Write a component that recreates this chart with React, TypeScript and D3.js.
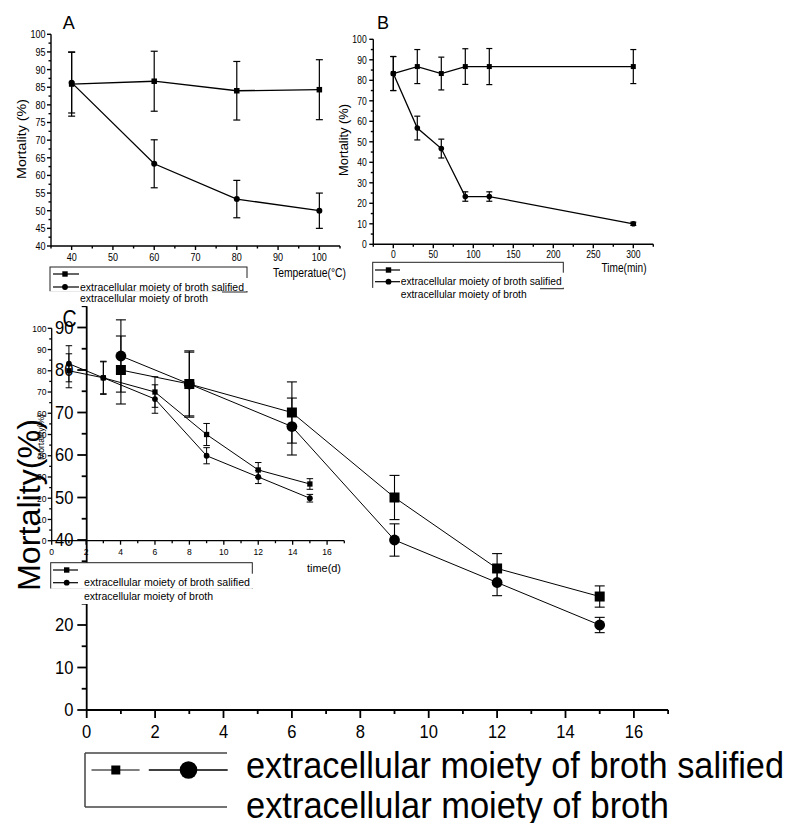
import React from "react";
import * as d3 from "d3";

// ---- panel A : temperature treatment ----
const tempX = [40, 60, 80, 100];
const tempSalified = [85.9, 86.7, 84.0, 84.3];
const tempSalifiedErr = [9.1, 8.5, 8.3, 8.5];
const tempBroth = [86.3, 63.3, 53.3, 50.0];
const tempBrothErr = [8.6, 6.8, 5.3, 5.0];
const tempXTicks = [40, 50, 60, 70, 80, 90, 100];
const tempXMinor = [35, 45, 55, 65, 75, 85, 95, 105];
const tempYTicks = [40, 45, 50, 55, 60, 65, 70, 75, 80, 85, 90, 95, 100];
const tempYMinor = [42.5, 47.5, 52.5, 57.5, 62.5, 67.5, 72.5, 77.5, 82.5, 87.5, 92.5, 97.5];

// ---- panel B : exposure time (min) ----
const minX = [0, 30, 60, 90, 120, 300];
const minSalified = [83.3, 86.7, 83.3, 86.7, 86.7, 86.7];
const minSalifiedErr = [8.3, 8.3, 8.0, 8.7, 8.8, 8.3];
const minBroth = [83.3, 56.7, 46.7, 23.3, 23.3, 10.0];
const minBrothErr = [8.3, 5.8, 4.6, 2.3, 2.3, 0.8];
const minXTicks = [0, 50, 100, 150, 200, 250, 300];
const minXMinor = [-25, 25, 75, 125, 175, 225, 275, 325];
const pctTicks = [0, 10, 20, 30, 40, 50, 60, 70, 80, 90, 100];
const pctMinor = [5, 15, 25, 35, 45, 55, 65, 75, 85, 95];

// ---- panel C : storage time (d) ----
const days = [1, 3, 6, 9, 12, 15];
const daySalified = [80.0, 76.7, 70.0, 50.0, 33.3, 26.7];
const daySalifiedErr = [8.0, 7.8, 7.2, 5.2, 3.5, 2.5];
const dayBroth = [83.3, 76.7, 66.7, 40.0, 30.0, 20.0];
const dayBrothErr = [8.5, 7.5, 6.7, 3.8, 3.1, 1.8];
const dayXTicks = [0, 2, 4, 6, 8, 10, 12, 14, 16];
const dayXMinor = [1, 3, 5, 7, 9, 11, 13, 15, 17];
const bigYTicks = [0, 10, 20, 30, 40, 50, 60, 70, 80, 90];
const bigYMinor = [5, 15, 25, 35, 45, 55, 65, 75, 85, 95];

const seriesNames = ["extracellular moiety of broth salified", "extracellular moiety of broth"];

const FONT = "'Liberation Sans', Arial, Helvetica, sans-serif";

// text squeezed horizontally (the figure was exported with a narrow face)
function Cond({ x, y, size, cond = 1, anchor = "start", dy = 0, children }: any) {
  return (
    <text
      transform={`translate(${x},${y}) scale(${cond},1)`}
      textAnchor={anchor}
      fontSize={size}
      dy={dy}
      fill="#000"
    >
      {children}
    </text>
  );
}

function Panel(p: any) {
  const x = d3.scaleLinear().domain(p.xDom).range([p.left, p.right]);
  const y = d3.scaleLinear().domain(p.yDom).range([p.bottom, p.top]);
  const line = d3
    .line<number[]>()
    .x(d => x(d[0]))
    .y(d => y(d[1]));

  return (
    <g>
      {/* series */}
      {p.series.map((s: any, si: number) => {
        const pts = s.xs.map((v: number, i: number) => [v, s.ys[i]]);
        return (
          <g key={si}>
            <path d={line(pts) || ""} fill="none" stroke="#000" strokeWidth={p.lineW} />
            {s.xs.map((v: number, i: number) => {
              const cx = x(v);
              const t = y(s.ys[i] + s.err[i]);
              const b = y(s.ys[i] - s.err[i]);
              return (
                <g key={i} stroke="#000" strokeWidth={p.errW}>
                  <line x1={cx} x2={cx} y1={t} y2={b} />
                  <line x1={cx - p.cap / 2} x2={cx + p.cap / 2} y1={t} y2={t} />
                  <line x1={cx - p.cap / 2} x2={cx + p.cap / 2} y1={b} y2={b} />
                </g>
              );
            })}
            {s.xs.map((v: number, i: number) =>
              s.shape === "square" ? (
                <rect
                  key={i}
                  x={x(v) - p.sq / 2}
                  y={y(s.ys[i]) - p.sq / 2}
                  width={p.sq}
                  height={p.sq}
                  fill="#000"
                />
              ) : (
                <circle key={i} cx={x(v)} cy={y(s.ys[i])} r={p.r} fill="#000" />
              )
            )}
          </g>
        );
      })}

      {/* axes */}
      <g stroke="#000" strokeWidth={p.axisW}>
        <line x1={p.left} x2={p.right} y1={p.bottom} y2={p.bottom} />
        <line x1={p.left} x2={p.left} y1={p.bottom} y2={p.top} />
        {p.xMajor.map((v: number) => (
          <line key={"xm" + v} x1={x(v)} x2={x(v)} y1={p.bottom} y2={p.bottom + p.xMajLen} />
        ))}
        {p.xMinor.map((v: number) => (
          <line key={"xn" + v} x1={x(v)} x2={x(v)} y1={p.bottom} y2={p.bottom + p.xMinLen} />
        ))}
        {p.yMajor.map((v: number) => (
          <line key={"ym" + v} x1={p.left} x2={p.left - p.yMajLen} y1={y(v)} y2={y(v)} />
        ))}
        {p.yMinor.map((v: number) => (
          <line key={"yn" + v} x1={p.left} x2={p.left - p.yMinLen} y1={y(v)} y2={y(v)} />
        ))}
      </g>
      {p.xMajor.map((v: number) => (
        <Cond key={"xl" + v} x={x(v)} y={p.bottom + p.xLabOff} size={p.fs} cond={p.cond} anchor="middle">
          {v}
        </Cond>
      ))}
      {p.yMajor.map((v: number) => (
        <Cond
          key={"yl" + v}
          x={p.left - p.yLabOff}
          y={y(v)}
          size={p.fs}
          cond={p.cond}
          anchor="end"
          dy="0.36em"
        >
          {v}
        </Cond>
      ))}
    </g>
  );
}

// small Origin-style legend: box partly hidden by the white text backgrounds
function SmallLegend(p: any) {
  const { l, t, r, b, lx0, lx1, mx, row1, row2, tx, base2, w1, w2, fs, bg2Right } = p;
  return (
    <g>
      <rect x={l} y={t} width={r - l} height={b - t} fill="#fff" stroke="#222" strokeWidth={1} />
      <rect x={tx - 2} y={row2 - 9} width={r + 2 - (tx - 2)} height={b - 1 - (row2 - 9)} fill="#fff" />
      <rect x={l - 6} y={b - 0.8} width={bg2Right - (l - 6)} height={base2 + 4 - (b - 0.8)} fill="#fff" />
      <line x1={lx0} x2={lx1} y1={row1} y2={row1} stroke="#000" strokeWidth={1.2} />
      <rect x={mx - 2.7} y={row1 - 2.7} width={5.4} height={5.4} fill="#000" />
      <line x1={lx0} x2={lx1} y1={row2} y2={row2} stroke="#000" strokeWidth={1.2} />
      <circle cx={mx} cy={row2} r={2.9} fill="#000" />
      <text x={tx} y={row2 + 3.6} fontSize={fs} textLength={w1} lengthAdjust="spacingAndGlyphs">
        {seriesNames[0]}
      </text>
      <text x={tx} y={base2} fontSize={fs} textLength={w2} lengthAdjust="spacingAndGlyphs">
        {seriesNames[1]}
      </text>
    </g>
  );
}

export default function App() {
  const series = (xs: number[], a: number[], ae: number[], c: number[], ce: number[]) => [
    { xs, ys: a, err: ae, shape: "square" },
    { xs, ys: c, err: ce, shape: "circle" },
  ];

  return (
    <svg
      width={799}
      height={823}
      style={{ position: "absolute", left: 0, top: 0, display: "block", background: "#fff" }}
      fontFamily={FONT}
    >
      {/* ---------- big panel C ---------- */}
      <Panel
        left={86.7}
        right={668.1}
        top={306.25}
        bottom={710}
        xDom={[0, 17]}
        yDom={[0, 95]}
        xMajor={dayXTicks}
        xMinor={dayXMinor}
        yMajor={bigYTicks}
        yMinor={bigYMinor}
        xMajLen={8}
        xMinLen={4}
        yMajLen={9.4}
        yMinLen={5}
        xLabOff={28.3}
        yLabOff={13.2}
        fs={18}
        cond={0.92}
        axisW={1.8}
        lineW={1}
        errW={1.1}
        cap={10}
        sq={10}
        r={5.4}
        series={series(days, daySalified, daySalifiedErr, dayBroth, dayBrothErr)}
      />
      <text
        transform="translate(40,505) rotate(-90)"
        textAnchor="middle"
        fontSize={32}
        textLength={172}
        lengthAdjust="spacingAndGlyphs"
      >
        Mortality(%)
      </text>
      <Cond x={62.5} y={327} size={23} cond={0.85}>
        C
      </Cond>

      {/* big legend */}
      <g stroke="#444" strokeWidth={1.5}>
        <line x1={85} x2={227} y1={753} y2={753} />
        <line x1={85} x2={227} y1={807} y2={807} />
        <line x1={85} x2={85} y1={753} y2={807} />
      </g>
      <line x1={91.5} x2={139.6} y1={770} y2={770} stroke="#555" strokeWidth={1.5} />
      <rect x={111.3} y={765.5} width={9} height={9} fill="#000" />
      <line x1={148.8} x2={227.7} y1={770} y2={770} stroke="#000" strokeWidth={1.5} />
      <circle cx={188.5} cy={770} r={8.8} fill="#000" />
      <text x={246} y={778} fontSize={36} textLength={538} lengthAdjust="spacingAndGlyphs">
        {seriesNames[0]}
      </text>
      <text x={246} y={818} fontSize={36} textLength={423} lengthAdjust="spacingAndGlyphs">
        {seriesNames[1]}
      </text>

      {/* ---------- small copy of panel C laid over it ---------- */}
      <Panel
        left={51.7}
        right={344.3}
        top={328.3}
        bottom={540.7}
        xDom={[0, 17]}
        yDom={[0, 100]}
        xMajor={dayXTicks}
        xMinor={dayXMinor}
        yMajor={pctTicks}
        yMinor={pctMinor}
        xMajLen={4}
        xMinLen={2.5}
        yMajLen={4}
        yMinLen={2.5}
        xLabOff={14.3}
        yLabOff={5.2}
        fs={9.5}
        cond={0.9}
        axisW={1.3}
        lineW={1}
        errW={1}
        cap={6.5}
        sq={5.3}
        r={2.9}
        series={series(days, daySalified, daySalifiedErr, dayBroth, dayBrothErr)}
      />
      <text
        transform="translate(43.5,437) rotate(-90)"
        textAnchor="middle"
        fontSize={9}
        textLength={46}
        lengthAdjust="spacingAndGlyphs"
      >
        Mortality(%)
      </text>
      <text x={324} y={572} textAnchor="middle" fontSize={10.5} textLength={34} lengthAdjust="spacingAndGlyphs">
        time(d)
      </text>
      <SmallLegend
        l={50.7}
        t={562.7}
        r={252.3}
        b={589.3}
        lx0={53}
        lx1={78}
        mx={66.7}
        row1={570}
        row2={582.7}
        tx={84}
        base2={600}
        w1={166}
        w2={129}
        fs={10.5}
        bg2Right={254}
      />

      {/* ---------- panel A ---------- */}
      <Panel
        left={51}
        right={340}
        top={34.3}
        bottom={246}
        xDom={[35, 105]}
        yDom={[40, 100]}
        xMajor={tempXTicks}
        xMinor={tempXMinor}
        yMajor={tempYTicks}
        yMinor={tempYMinor}
        xMajLen={4}
        xMinLen={2.5}
        yMajLen={4}
        yMinLen={2.5}
        xLabOff={14.5}
        yLabOff={5.5}
        fs={11}
        cond={0.82}
        axisW={1.4}
        lineW={1.3}
        errW={1.2}
        cap={7}
        sq={5.5}
        r={3}
        series={series(tempX, tempSalified, tempSalifiedErr, tempBroth, tempBrothErr)}
      />
      <text
        transform="translate(25.5,139) rotate(-90)"
        textAnchor="middle"
        fontSize={13}
        textLength={80}
        lengthAdjust="spacingAndGlyphs"
      >
        Mortality (%)
      </text>
      <text x={309.5} y={277} textAnchor="middle" fontSize={12} textLength={73} lengthAdjust="spacingAndGlyphs">
        Temperatue(°C)
      </text>
      <text x={62.7} y={29.3} fontSize={18}>
        A
      </text>
      <SmallLegend
        l={50}
        t={267}
        r={247}
        b={292}
        lx0={53}
        lx1={79}
        mx={65}
        row1={274}
        row2={287}
        tx={80}
        base2={302}
        w1={164}
        w2={128}
        fs={10.5}
        bg2Right={222}
      />

      {/* ---------- panel B ---------- */}
      <Panel
        left={373.3}
        right={653.3}
        top={39.3}
        bottom={244.3}
        xDom={[-25, 325]}
        yDom={[0, 100]}
        xMajor={minXTicks}
        xMinor={minXMinor}
        yMajor={pctTicks}
        yMinor={pctMinor}
        xMajLen={4}
        xMinLen={2.5}
        yMajLen={4}
        yMinLen={2.5}
        xLabOff={13.2}
        yLabOff={6.6}
        fs={10.5}
        cond={0.82}
        axisW={1.4}
        lineW={1.3}
        errW={1.2}
        cap={6}
        sq={5}
        r={2.8}
        series={series(minX, minSalified, minSalifiedErr, minBroth, minBrothErr)}
      />
      <text
        transform="translate(347.5,140) rotate(-90)"
        textAnchor="middle"
        fontSize={12}
        textLength={72}
        lengthAdjust="spacingAndGlyphs"
      >
        Mortality (%)
      </text>
      <text x={624} y={271.5} textAnchor="middle" fontSize={12} textLength={45} lengthAdjust="spacingAndGlyphs">
        Time(min)
      </text>
      <text x={377} y={29.3} fontSize={18}>
        B
      </text>
      <SmallLegend
        l={372.7}
        t={262.3}
        r={563.3}
        b={288.7}
        lx0={375}
        lx1={400}
        mx={388.5}
        row1={270}
        row2={281.7}
        tx={400.7}
        base2={298}
        w1={161}
        w2={126}
        fs={10.5}
        bg2Right={540}
      />
    </svg>
  );
}
